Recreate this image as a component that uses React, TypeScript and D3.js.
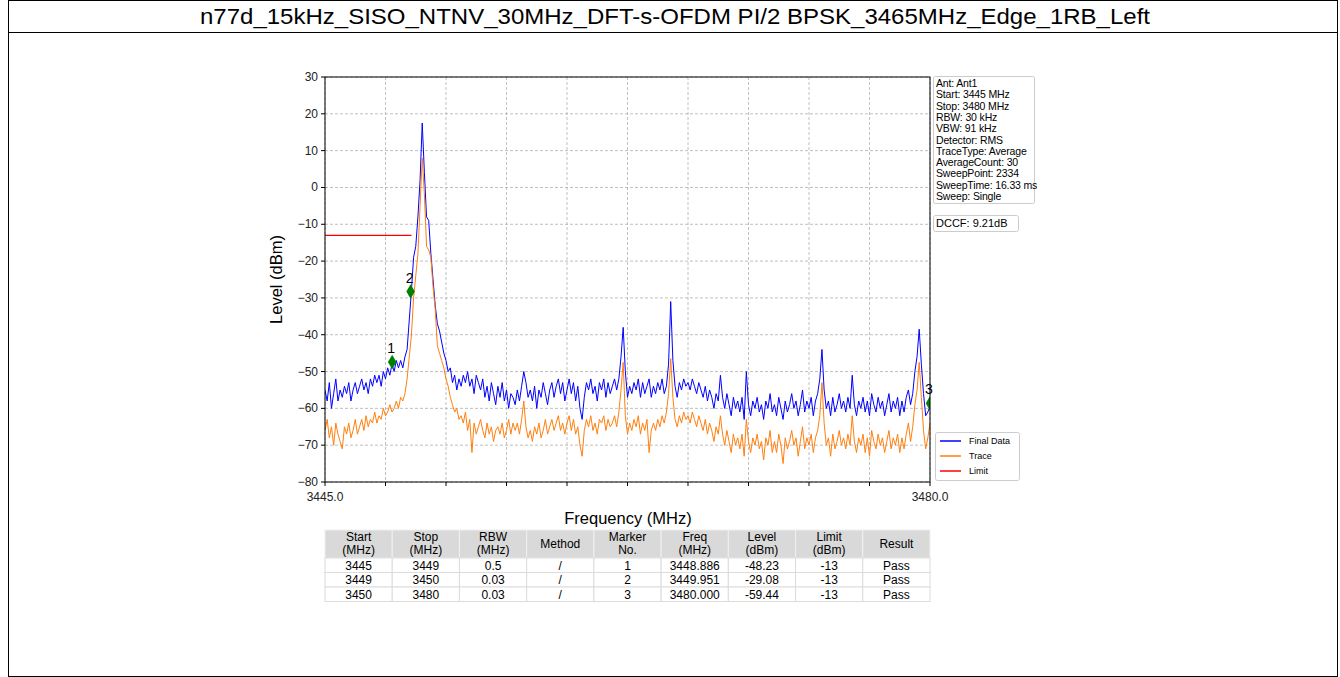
import { useMemo } from "react";
import * as d3 from "d3";

const title = "n77d_15kHz_SISO_NTNV_30MHz_DFT-s-OFDM PI/2 BPSK_3465MHz_Edge_1RB_Left";

// sweep grid: 3445 .. 3480 MHz, 0.125 MHz per sample
const freqStart = 3445;
const freqStep = 0.125;

const finalData = [
  -55, -58, -53, -60, -56, -52, -58, -55,
  -57, -54, -56, -53, -58, -55, -53, -56,
  -54, -52, -55, -53, -56, -52, -54, -51,
  -53, -51, -54, -50, -52, -49, -51, -48,
  -50, -47, -49, -47, -49, -46, -44, -36,
  -28, -19, -16, -8, 2, 17.5, 4, -8,
  -9, -18, -25, -32, -37, -39, -42, -45,
  -47, -50, -49, -53, -51, -55, -52, -54,
  -51, -53, -50, -54, -52, -56, -51, -53,
  -55, -52, -57, -54, -58, -53, -56, -59,
  -54, -57, -53, -58, -55, -60, -56, -57,
  -59, -55, -58, -54, -50, -53, -57, -55,
  -58, -54, -60, -55, -57, -53, -56, -59,
  -55, -53, -57, -54, -52, -56, -53, -58,
  -55, -52, -56, -53, -58, -54, -60, -63,
  -57, -53, -55, -52, -56, -54, -58, -53,
  -55, -52, -57, -53, -56, -54, -52, -55,
  -52, -46, -38, -50, -57, -54, -56, -53,
  -55, -52, -57, -53, -56, -54, -52, -57,
  -54, -56, -53, -55, -52, -56, -54, -48,
  -31, -47, -54, -57, -53, -55, -52, -54,
  -53, -55, -52, -54, -56, -53, -55, -57,
  -54, -58, -55, -57, -60, -56, -58, -51,
  -57, -60, -56, -59, -62, -57, -60, -58,
  -61, -57, -63, -50, -59, -62, -58, -60,
  -57, -61, -59, -63, -58, -60, -56, -61,
  -59, -62, -57, -60, -63, -58, -61, -59,
  -56, -60, -58, -62, -59, -55, -61, -58,
  -60, -57, -62, -58, -56, -52, -44, -55,
  -60, -58, -62, -57, -61, -59, -56, -60,
  -58, -61, -57, -60, -51, -59, -62, -58,
  -60, -57, -61, -58, -62, -56, -59, -61,
  -57, -60, -58, -62, -59, -56, -61, -58,
  -60, -57, -62, -58, -61, -57, -55, -59,
  -56, -50, -46, -38.5, -48, -56, -62, -61,
  -59.44,
];

const traceData = [
  -66, -63, -68, -65, -70, -64, -67, -69,
  -71, -65, -67, -64, -68, -66, -63, -67,
  -65, -63, -66, -62, -65, -63, -64, -61,
  -64, -62, -63, -60, -62, -61, -59, -61,
  -60, -58, -60, -57, -58, -56, -52, -46,
  -40, -30, -24, -18, -5, 8, -2, -16,
  -17, -19, -27, -33, -43, -45, -47, -49,
  -52, -54, -57, -59, -61, -60, -63, -62,
  -64, -61, -66, -63, -72, -64, -67, -65,
  -63, -66, -68, -64, -67, -65, -69, -66,
  -65, -67, -64, -68, -66, -63, -67, -64,
  -66, -64, -67, -63, -58, -65, -68, -66,
  -69, -65, -67, -64, -68, -66, -63, -67,
  -65, -63, -66, -64, -62, -66, -64, -67,
  -64, -62, -66, -63, -67, -65, -70, -73,
  -66, -63, -65, -62, -66, -64, -67, -63,
  -64, -62, -66, -63, -65, -64, -62, -65,
  -61, -55, -47.5, -62, -67, -64, -66, -63,
  -65, -62, -67, -64, -66, -63, -72, -66,
  -64, -66, -63, -65, -62, -64, -61, -56,
  -46.5, -57, -63, -65, -62, -64, -61, -63,
  -62, -64, -61, -63, -65, -62, -64, -66,
  -63, -67, -64, -66, -69, -65, -67, -62,
  -67, -70, -66, -69, -72, -67, -70, -68,
  -71, -67, -73, -63, -69, -72, -68, -70,
  -67, -71, -69, -74, -68, -70, -66, -72,
  -69, -72, -67, -70, -75, -68, -71, -69,
  -66, -70, -68, -73, -69, -65, -71, -68,
  -70, -67, -72, -68, -66, -62, -53, -64,
  -70, -68, -73, -67, -71, -69, -66, -70,
  -68, -71, -67, -70, -62, -69, -72, -68,
  -70, -67, -72, -68, -73, -66, -69, -71,
  -67, -70, -68, -72, -69, -66, -71, -68,
  -70, -67, -72, -68, -71, -67, -64, -69,
  -65, -59, -55, -47.5, -57, -66, -71, -68,
  -64,
];

const limitFreqs = [3445, 3450];
const limitLevels = [-13, -13];

const markerNos = ["1", "2", "3"];
const markerFreqs = [3448.886, 3449.951, 3480.0];
const markerLevels = [-48.23, -29.08, -59.44];

const yTicks = [30, 20, 10, 0, -10, -20, -30, -40, -50, -60, -70, -80];
const xTicks = [3445, 3448.5, 3452, 3455.5, 3459, 3462.5, 3466, 3469.5, 3473, 3476.5, 3480];
const xTickLabels = ["3445.0", "", "", "", "", "", "", "", "", "", "3480.0"];

const infoLines = [
  "Ant: Ant1",
  "Start: 3445 MHz",
  "Stop: 3480 MHz",
  "RBW: 30 kHz",
  "VBW: 91 kHz",
  "Detector: RMS",
  "TraceType: Average",
  "AverageCount: 30",
  "SweepPoint: 2334",
  "SweepTime: 16.33 ms",
  "Sweep: Single",
];
const dccf = "DCCF: 9.21dB";

const legendNames = ["Final Data", "Trace", "Limit"];
const legendColors = ["#0000ff", "#ff7f0e", "#ff0000"];

const tableHeader = [
  ["Start", "(MHz)"],
  ["Stop", "(MHz)"],
  ["RBW", "(MHz)"],
  ["Method"],
  ["Marker", "No."],
  ["Freq", "(MHz)"],
  ["Level", "(dBm)"],
  ["Limit", "(dBm)"],
  ["Result"],
];
const tableRows = [
  ["3445", "3449", "0.5", "/", "1", "3448.886", "-48.23", "-13", "Pass"],
  ["3449", "3450", "0.03", "/", "2", "3449.951", "-29.08", "-13", "Pass"],
  ["3450", "3480", "0.03", "/", "3", "3480.000", "-59.44", "-13", "Pass"],
];

const FONT = "'Liberation Sans', Arial, sans-serif";

export default function App() {
  const W = 1340;
  const H = 677;
  const plot = { left: 325, right: 930, top: 77, bottom: 482 };

  const x = useMemo(
    () => d3.scaleLinear().domain([3445, 3480]).range([plot.left, plot.right]),
    []
  );
  const y = useMemo(
    () => d3.scaleLinear().domain([-80, 30]).range([plot.bottom, plot.top]),
    []
  );

  const line = d3
    .line<number>()
    .x((_, i) => x(freqStart + i * freqStep))
    .y((d) => y(d));

  const limitLine = d3
    .line<number>()
    .x((_, i) => x(limitFreqs[i]))
    .y((d) => y(d));

  const diamond = d3.symbol().type(d3.symbolDiamond).size(62)() ?? "";

  // table layout
  const tLeft = plot.left;
  const tRight = plot.right;
  const colW = (tRight - tLeft) / tableHeader.length;
  const headTop = 530;
  const headH = 28;
  const rowH = 14.5;

  const legendTop = 432;

  return (
    <svg
      width={W}
      height={H}
      style={{ position: "absolute", left: 0, top: 0, background: "#fff" }}
      fontFamily={FONT}
    >
      <defs>
        <clipPath id="plotClip">
          <rect x={plot.left} y={plot.top} width={plot.right - plot.left} height={plot.bottom - plot.top} />
        </clipPath>
      </defs>

      {/* page frame + title row */}
      <rect x={8.5} y={0.5} width={1329} height={676} fill="none" stroke="#000" />
      <line x1={8.5} x2={1337.5} y1={32.5} y2={32.5} stroke="#000" />
      <text
        x={675}
        y={24}
        fontSize={22}
        textAnchor="middle"
        textLength={950}
        lengthAdjust="spacingAndGlyphs"
      >
        {title}
      </text>

      {/* grid */}
      <g stroke="#b0b0b0" strokeWidth={0.8} strokeDasharray="3,2">
        {yTicks.map((t) => (
          <line key={"gy" + t} x1={plot.left} x2={plot.right} y1={y(t)} y2={y(t)} />
        ))}
        {xTicks.map((t) => (
          <line key={"gx" + t} x1={x(t)} x2={x(t)} y1={plot.top} y2={plot.bottom} />
        ))}
      </g>

      {/* traces */}
      <g clipPath="url(#plotClip)" fill="none">
        <path d={line(finalData) ?? ""} stroke="#0000ff" strokeWidth={1} strokeLinejoin="round" />
        <path d={line(traceData) ?? ""} stroke="#ff7f0e" strokeWidth={1} strokeLinejoin="round" />
        <path d={limitLine(limitLevels) ?? ""} stroke="#ff0000" strokeWidth={1.2} />
        {markerFreqs.map((f, i) => (
          <path
            key={"m" + i}
            d={diamond}
            transform={`translate(${x(f)},${y(markerLevels[i]) - 3})`}
            fill="#008000"
          />
        ))}
      </g>
      {markerFreqs.map((f, i) => (
        <text
          key={"ml" + i}
          x={x(f) - 1}
          y={y(markerLevels[i]) - 12}
          fontSize={14}
          textAnchor="middle"
        >
          {markerNos[i]}
        </text>
      ))}

      {/* axes frame */}
      <rect
        x={plot.left}
        y={plot.top}
        width={plot.right - plot.left}
        height={plot.bottom - plot.top}
        fill="none"
        stroke="#000"
        strokeWidth={1}
      />

      {/* y ticks */}
      {yTicks.map((t) => (
        <g key={"yt" + t}>
          <line x1={plot.left - 4} x2={plot.left} y1={y(t)} y2={y(t)} stroke="#000" />
          <text x={plot.left - 7} y={y(t) + 4} fontSize={12} textAnchor="end" fill="#222">
            {t < 0 ? "\u2212" + Math.abs(t) : String(t)}
          </text>
        </g>
      ))}
      {/* x ticks */}
      {xTicks.map((t, i) => (
        <g key={"xt" + t}>
          <line x1={x(t)} x2={x(t)} y1={plot.bottom} y2={plot.bottom + 4} stroke="#000" />
          {xTickLabels[i] && (
            <text x={x(t)} y={plot.bottom + 19} fontSize={12} textAnchor="middle" fill="#222">
              {xTickLabels[i]}
            </text>
          )}
        </g>
      ))}

      <text x={628} y={524} fontSize={16.5} textAnchor="middle">
        Frequency (MHz)
      </text>
      <text transform={`translate(282,${(plot.top + plot.bottom) / 2}) rotate(-90)`} fontSize={16.5} textAnchor="middle">
        Level (dBm)
      </text>

      {/* info box */}
      <rect x={933.5} y={76.5} width={101} height={127} rx={2} fill="#fff" stroke="#cccccc" />
      {infoLines.map((s, i) => (
        <text key={"info" + i} x={936} y={87 + i * 11.3} fontSize={10.5} letterSpacing={-0.15}>
          {s}
        </text>
      ))}
      <rect x={933.5} y={215.5} width={85} height={16} rx={2} fill="#fff" stroke="#cccccc" />
      <text x={936} y={227} fontSize={11}>
        {dccf}
      </text>

      {/* legend */}
      <rect x={935.5} y={legendTop + 0.5} width={84} height={48} rx={2} fill="#fff" stroke="#cccccc" />
      {legendNames.map((n, i) => (
        <g key={"lg" + i}>
          <line
            x1={940}
            x2={961}
            y1={legendTop + 9 + i * 15}
            y2={legendTop + 9 + i * 15}
            stroke={legendColors[i]}
            strokeWidth={1.5}
          />
          <text x={969} y={legendTop + 12 + i * 15} fontSize={9}>
            {n}
          </text>
        </g>
      ))}

      {/* result table */}
      <g fontSize={12} textAnchor="middle">
        {tableHeader.map((h, c) => (
          <g key={"th" + c}>
            <rect
              x={tLeft + c * colW}
              y={headTop}
              width={colW}
              height={headH}
              fill="#d9d9d9"
              stroke="#f0f0f0"
              strokeWidth={1}
            />
            {h.length === 2 ? (
              <>
                <text x={tLeft + c * colW + colW / 2} y={headTop + 11}>
                  {h[0]}
                </text>
                <text x={tLeft + c * colW + colW / 2} y={headTop + 24}>
                  {h[1]}
                </text>
              </>
            ) : (
              <text x={tLeft + c * colW + colW / 2} y={headTop + 18}>
                {h[0]}
              </text>
            )}
          </g>
        ))}
        {tableRows.map((row, r) =>
          row.map((v, c) => (
            <g key={`td${r}-${c}`}>
              <rect
                x={tLeft + c * colW}
                y={headTop + headH + r * rowH}
                width={colW}
                height={rowH}
                fill="#fff"
                stroke="#dcdcdc"
                strokeWidth={1}
              />
              <text x={tLeft + c * colW + colW / 2} y={headTop + headH + r * rowH + 11.5}>
                {v}
              </text>
            </g>
          ))
        )}
      </g>
    </svg>
  );
}
